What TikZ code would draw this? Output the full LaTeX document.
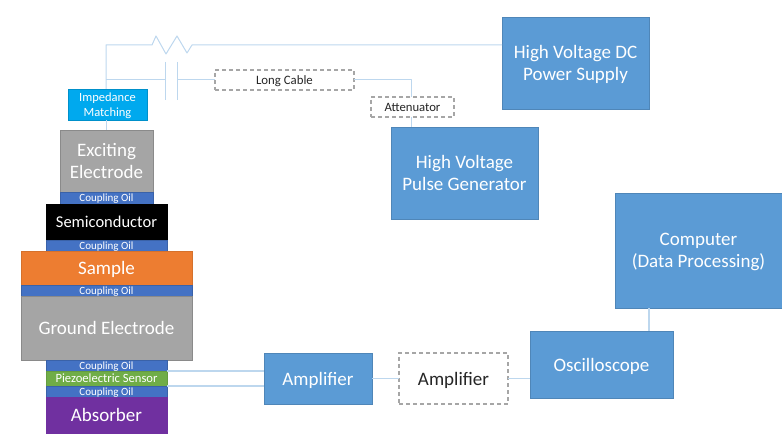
\documentclass[tikz,border=0pt]{standalone}
\usepackage{fontspec}
\setmainfont{Carlito}
\definecolor{wire}{HTML}{BDD7EE}
\definecolor{bluebox}{HTML}{5B9BD5}
\definecolor{blueedge}{HTML}{4F86B8}
\definecolor{oilfill}{HTML}{4472C4}
\definecolor{oiledge}{HTML}{3A62A8}
\definecolor{orangebox}{HTML}{ED7D31}
\definecolor{graybox}{HTML}{A5A5A5}
\definecolor{grayedge}{HTML}{8A8A8A}
\definecolor{greenbox}{HTML}{70AD47}
\definecolor{purplebox}{HTML}{7030A0}
\definecolor{cyanbox}{HTML}{00A9EE}
\tikzset{
  x=1pt,y=-1pt,
  base/.style={inner sep=0pt,outer sep=0pt,align=center,line width=0.7pt,text=white,text depth=0pt},
  wh/.style args={#1x#2}{minimum width=#1pt,minimum height=#2pt},
  bigbox/.style={base,fill=bluebox,draw=blueedge,font=\fontsize{19}{22.5}\selectfont},
  dashbox/.style={base,draw=black!35,dash pattern=on 4pt off 3pt,line width=1.1pt,text=black!85,fill=white},
  oil/.style={base,fill=oilfill,draw=oiledge,font=\fontsize{11}{12}\selectfont},
  layer/.style={base,font=\fontsize{19}{22.5}\selectfont},
  wireline/.style={draw=wire,line width=1pt,line join=round},
}
\begin{document}
\begin{tikzpicture}
\useasboundingbox (0,0) rectangle (782,435);
\node[bigbox,wh=147x92] (dc) at (575.5,63) {High Voltage DC\\Power Supply};
\node[bigbox,wh=147x92] (pulse) at (464.5,173) {High Voltage\\Pulse Generator};
\node[bigbox,wh=167x115] (comp) at (698.5,250.5) {Computer\\(Data Processing)};
\node[bigbox,wh=143x67] (osc) at (601.5,364.5) {Oscilloscope};
\node[bigbox,wh=108x51] (amp) at (318,378.5) {Amplifier};
\node[dashbox,wh=109x51,font=\fontsize{19}{22.5}\selectfont] (amptwo) at (453.5,378.5) {Amplifier};
\node[dashbox,wh=139x20,font=\fontsize{12.8}{14}\selectfont] (cable) at (284.5,80) {Long Cable};
\node[dashbox,wh=83x20,font=\fontsize{12.7}{14}\selectfont] (att) at (412.5,107) {Attenuator};
\node[base,fill=cyanbox,draw=cyanbox!85!black,wh=79x31,font=\fontsize{12.5}{15}\selectfont] (imp) at (107.5,104.5) {Impedance\\Matching};
\node[layer,fill=graybox,draw=grayedge,wh=93x62,text depth=-2pt] (exc) at (106.5,161) {Exciting\\Electrode};
\node[oil,wh=93x12] (oila) at (106.5,198) {Coupling Oil};
\node[layer,fill=black,draw=black,wh=121x36,font=\fontsize{16.5}{20}\selectfont] (semi) at (106.5,222) {Semiconductor};
\node[oil,wh=121x11] (oilb) at (106.5,245.5) {Coupling Oil};
\node[layer,fill=orangebox,draw=orangebox!90!black,wh=171x34] (samp) at (106.5,268) {Sample};
\node[oil,wh=171x11] (oilc) at (106.5,290.5) {Coupling Oil};
\node[layer,fill=graybox,draw=grayedge,wh=171x64] (gnd) at (106.5,328) {Ground Electrode};
\node[oil,wh=121x11] (oild) at (106.5,365.5) {Coupling Oil};
\node[base,fill=greenbox,draw=greenbox!90!black,wh=121x15,font=\fontsize{12.6}{14}\selectfont] (piezo) at (106.5,378.5) {Piezoelectric Sensor};
\node[oil,wh=121x11] (oile) at (106.5,391.5) {Coupling Oil};
\node[layer,fill=purplebox,draw=purplebox,wh=121x36,text depth=-1pt] (abs) at (106.5,415) {Absorber};
% named points of the resistor and capacitor
\coordinate (top) at (106,45);
\coordinate (ra) at (152,45);
\coordinate (rb) at (156,36);
\coordinate (rc) at (166,54);
\coordinate (rd) at (177,36);
\coordinate (re) at (187,53);
\coordinate (rf) at (192,45);
\coordinate (capj) at (106,80);
\coordinate (capl) at (165,80);
\coordinate (capr) at (177,80);
\coordinate (capla) at (165,62);
\coordinate (caplb) at (165,100);
\coordinate (capra) at (177,62);
\coordinate (caprb) at (177,100);
\coordinate (attin) at (411,97);
\coordinate (attout) at (411,117);
\coordinate (pulsein) at (411,127);
\coordinate (cablebend) at (411,80);
\coordinate (compout) at (649,308);
\coordinate (oscin) at (649,331);
\coordinate (excin) at (106,130);
\coordinate (impout) at (106,120);
\coordinate (impin) at (106,89);
\draw[wireline] (impin) -- (top) -- (ra) -- (rb) -- (rc) -- (rd) -- (re) -- (rf) -- (dc.west |- rf);
\draw[wireline] (capj) -- (capl);
\draw[wireline] (capla) -- (caplb);
\draw[wireline] (capra) -- (caprb);
\draw[wireline] (capr) -- (cable.west);
\draw[wireline] (cable.east) -- (cablebend) -- (attin);
\draw[wireline] (attout) -- (pulsein);
\draw[wireline] (impout) -- (excin);
\draw[wireline,line width=1.2pt] (piezo.north east) -- (amp.west |- piezo.north east);
\draw[wireline,line width=1.2pt] (piezo.south east) -- (amp.west |- piezo.south east);
\draw[wireline] (amp.east) -- (amptwo.west);
\draw[wireline] (amptwo.east) -- (amptwo.east -| osc.west);
\draw[wireline,line width=1.4pt] (compout) -- (oscin);
\end{tikzpicture}
\end{document}
